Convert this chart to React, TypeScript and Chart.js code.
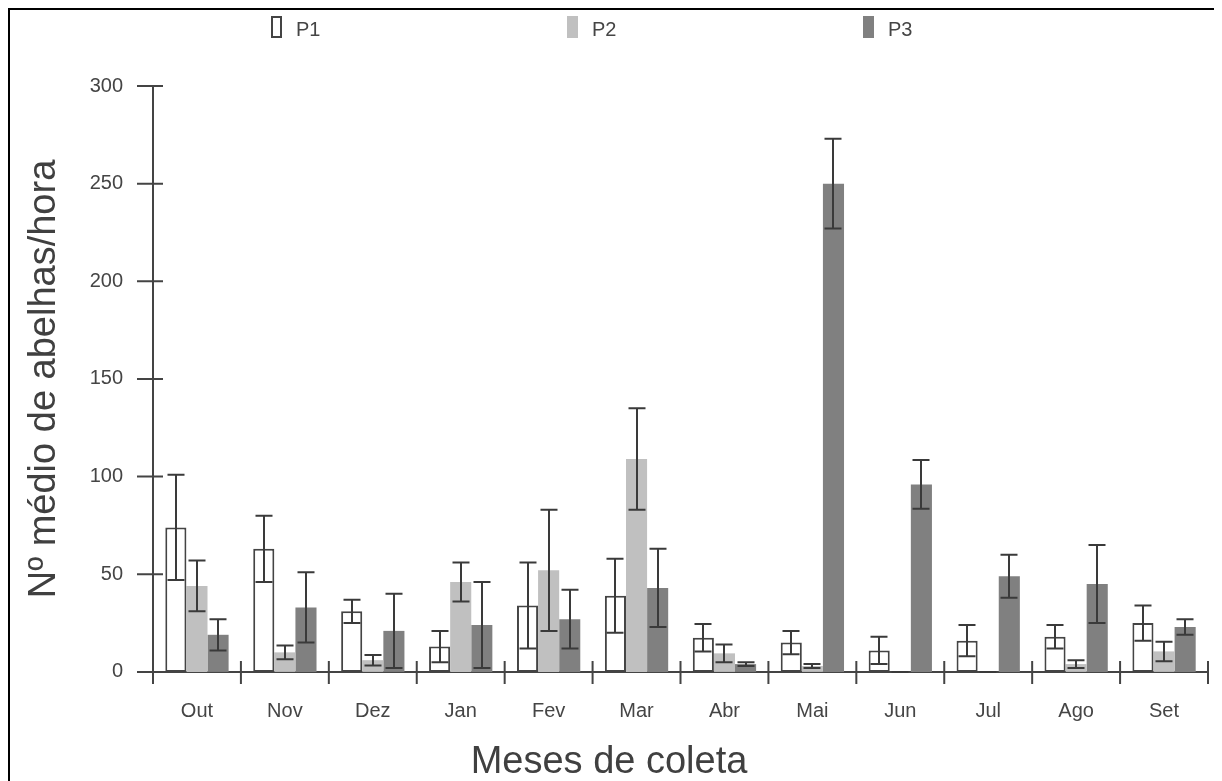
import React, { useEffect, useRef } from 'react';
import { Chart, registerables } from 'chart.js';

Chart.register(...registerables);

const months = ['Out', 'Nov', 'Dez', 'Jan', 'Fev', 'Mar', 'Abr', 'Mai', 'Jun', 'Jul', 'Ago', 'Set'];
const seriesNames = ['P1', 'P2', 'P3'];
const p1 = [74, 63, 31, 13, 34, 39, 17.5, 15, 11, 16, 18, 25];
const p1Err = [27, 17, 6, 8, 22, 19, 7, 6, 7, 8, 6, 9];
const p2 = [44, 10, 6, 46, 52, 109, 9.5, 3, 0, 0, 4, 10.5];
const p2Err = [13, 3.5, 2.7, 10, 31, 26, 4.5, 1, 0, 0, 2, 5];
const p3 = [19, 33, 21, 24, 27, 43, 4, 250, 96, 49, 45, 23];
const p3Err = [8, 18, 19, 22, 15, 20, 1, 23, 12.5, 11, 20, 4];
const yMin = 0;
const yMax = 300;
const yStep = 50;

const FONT = "'Liberation Sans', Arial, sans-serif";
const AXIS = '#444444';
const TEXT = '#454545';

const axesPlugin = {
  id: 'customAxes',
  beforeDatasetsDraw(chart: any) {
    const { ctx, chartArea } = chart;
    const { left, right, bottom } = chartArea;
    const xs = chart.scales.x;
    const ys = chart.scales.y;
    ctx.save();
    ctx.strokeStyle = AXIS;
    ctx.lineWidth = 2;
    ctx.beginPath();
    ctx.moveTo(left, ys.getPixelForValue(ys.max) - 1);
    ctx.lineTo(left, bottom);
    ctx.moveTo(left, bottom);
    ctx.lineTo(right, bottom);
    ys.ticks.forEach((t: any) => {
      const py = ys.getPixelForValue(t.value);
      ctx.moveTo(left - 16, py);
      ctx.lineTo(left + 10, py);
    });
    for (let i = 0; i <= xs.ticks.length; i++) {
      const px = xs.getPixelForValue(i - 0.5);
      ctx.moveTo(px, bottom - 11);
      ctx.lineTo(px, bottom + 12);
    }
    ctx.stroke();
    ctx.restore();
  },
};

const errorBarPlugin = {
  id: 'errorBars',
  afterDatasetsDraw(chart: any) {
    const { ctx } = chart;
    const ys = chart.scales.y;
    ctx.save();
    ctx.strokeStyle = '#3a3a3a';
    ctx.lineWidth = 2;
    chart.data.datasets.forEach((ds: any, di: number) => {
      const meta = chart.getDatasetMeta(di);
      meta.data.forEach((bar: any, i: number) => {
        const v = ds.data[i];
        const e = ds.errors[i];
        const x = Math.round(bar.x);
        const yTop = ys.getPixelForValue(v + e);
        const yBot = ys.getPixelForValue(Math.max(0, v - e));
        const hw = 8.5;
        ctx.beginPath();
        ctx.moveTo(x, yTop);
        ctx.lineTo(x, yBot);
        ctx.moveTo(x - hw, yTop);
        ctx.lineTo(x + hw, yTop);
        ctx.moveTo(x - hw, yBot);
        ctx.lineTo(x + hw, yBot);
        ctx.stroke();
      });
    });
    ctx.restore();
  },
};

const legendPlugin = {
  id: 'topLegend',
  afterDraw(chart: any, _args: any, opts: any) {
    const { ctx } = chart;
    ctx.save();
    chart.data.datasets.forEach((ds: any, i: number) => {
      const bx = opts.x0 + i * opts.gap;
      const cy = opts.y;
      const bw = 11;
      const bh = 22;
      ctx.fillStyle = ds.backgroundColor;
      ctx.fillRect(bx, cy - bh / 2, bw, bh);
      if (ds.borderWidth) {
        ctx.strokeStyle = ds.borderColor;
        ctx.lineWidth = 2;
        ctx.strokeRect(bx + 1, cy - bh / 2 + 1, bw - 2, bh - 2);
      }
      ctx.fillStyle = TEXT;
      ctx.font = `20px ${FONT}`;
      ctx.textBaseline = 'middle';
      ctx.textAlign = 'left';
      ctx.fillText(ds.label, bx + 25, cy + 3);
    });
    ctx.restore();
  },
};

export default function App() {
  const ref = useRef<HTMLCanvasElement | null>(null);

  useEffect(() => {
    if (!ref.current) return;
    const chart = new Chart(ref.current, {
      type: 'bar',
      data: {
        labels: months,
        datasets: [
          {
            label: seriesNames[0],
            data: p1,
            errors: p1Err,
            backgroundColor: '#ffffff',
            borderColor: '#444444',
            borderWidth: 2,
            borderSkipped: false,
          } as any,
          {
            label: seriesNames[1],
            data: p2,
            errors: p2Err,
            backgroundColor: '#c0c0c0',
            borderWidth: 0,
          } as any,
          {
            label: seriesNames[2],
            data: p3,
            errors: p3Err,
            backgroundColor: '#808080',
            borderWidth: 0,
          } as any,
        ],
      },
      options: {
        responsive: false,
        animation: false,
        categoryPercentage: 0.72,
        barPercentage: 1.0,
        layout: { padding: { top: 76, right: 10, left: 0, bottom: 0 } },
        plugins: {
          legend: { display: false },
          tooltip: { enabled: false },
          title: {
            display: true,
            position: 'bottom',
            text: 'Meses de coleta',
            color: '#404040',
            font: { size: 38, family: FONT, weight: 'normal', lineHeight: 0.95 },
            padding: 0,
          },
          topLegend: { x0: 261, gap: 296, y: 17 },
        } as any,
        scales: {
          x: {
            grid: { display: false },
            border: { display: false },
            ticks: { padding: 20, color: TEXT, font: { size: 20, family: FONT } },
            afterFit: (s: any) => {
              s.height = 73;
            },
          },
          y: {
            min: yMin,
            max: yMax,
            grid: { display: false },
            border: { display: false },
            ticks: { stepSize: yStep, padding: 22, color: TEXT, font: { size: 20, family: FONT } },
            title: {
              display: true,
              text: 'Nº médio de abelhas/hora',
              color: '#404040',
              font: { size: 38, family: FONT },
              padding: { top: 12, bottom: 0 },
            },
            afterFit: (s: any) => {
              s.width = 143;
            },
          },
        },
      } as any,
      plugins: [axesPlugin, errorBarPlugin, legendPlugin],
    });
    return () => chart.destroy();
  }, []);

  return (
    <div
      style={{
        width: 1212,
        height: 773,
        border: '2px solid #000',
        borderBottom: 'none',
        boxSizing: 'border-box',
        background: '#fff',
        overflow: 'hidden',
      }}
    >
      <canvas ref={ref} width={1208} height={771} style={{ display: 'block' }} />
    </div>
  );
}
